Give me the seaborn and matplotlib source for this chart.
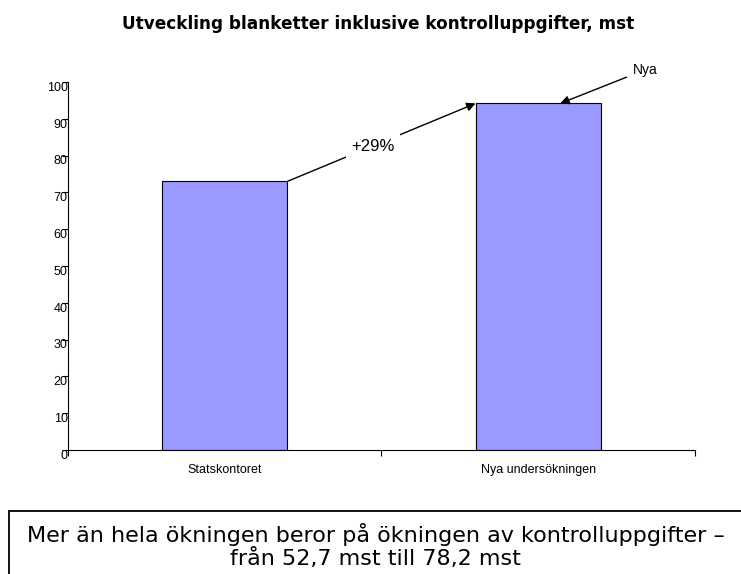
import matplotlib
matplotlib.use('Agg')
import matplotlib.pyplot as plt
import matplotlib.patches as mpatches
import matplotlib.transforms as mtransforms
import seaborn as sns

# Data (miljoner st)
categories = ['Statskontoret', 'Nya undersökningen']
values = [73.0, 94.2]
y_ticks = [0, 10, 20, 30, 40, 50, 60, 70, 80, 90, 100]
title = 'Utveckling blanketter inklusive kontrolluppgifter, mst'
change_label = '+29%'
new_label = 'Nya'
note = 'Mer än hela ökningen beror på ökningen av kontrolluppgifter –\nfrån 52,7 mst till 78,2 mst'

sns.set_style('white')
plt.rcParams['font.family'] = ['Liberation Sans', 'DejaVu Sans']
plt.rcParams['text.color'] = 'black'
plt.rcParams['xtick.color'] = 'black'
plt.rcParams['ytick.color'] = 'black'
plt.rcParams['axes.labelcolor'] = 'black'

fig = plt.figure(figsize=(7.41, 5.74), dpi=100)
ax = fig.add_axes([0.0912, 0.216, 0.847, 0.641])

bar_w = 0.4
sns.barplot(x=categories, y=values, color='#9999ff', saturation=1,
            width=bar_w, edgecolor='black', linewidth=0.8, ax=ax)

ax.set_xlim(-0.5, 1.5)
ax.set_ylim(0, 100)
ax.set_yticks(y_ticks)
ax.set_yticklabels([str(t) for t in y_ticks], fontsize=9)
ax.tick_params(axis='y', direction='out', length=4, width=0.8, pad=-4, left=True)
ax.tick_params(axis='x', which='major', length=0, pad=10, labelsize=9, bottom=True)
ax.set_xticks([-0.5, 0.5, 1.5], minor=True)
ax.tick_params(axis='x', which='minor', direction='out', length=4, width=0.8, bottom=True)
ax.set_xlabel('')
ax.set_ylabel('')

# y labels sit a little below their tick marks, like in the original
shift = mtransforms.ScaledTranslation(0, -3 / 72, fig.dpi_scale_trans)
for lbl in ax.get_yticklabels():
    lbl.set_transform(lbl.get_transform() + shift)

sns.despine(ax=ax, top=True, right=True)
for s in ['left', 'bottom']:
    ax.spines[s].set_color('black')
    ax.spines[s].set_linewidth(0.8)

# +29% arrow from top of first bar to top of second bar
start = (0 + bar_w / 2, values[0])
end = (1 - bar_w / 2, values[1])
ax.annotate('', xy=end, xytext=start,
            arrowprops=dict(arrowstyle='-|>', color='black', lw=1,
                            mutation_scale=13, shrinkA=0, shrinkB=0))
ax.text(0.473, 82.6, change_label, fontsize=12, ha='center', va='center',
        bbox=dict(facecolor='white', edgecolor='none', pad=4), zorder=5)

# "Nya" pointer
ax.annotate(new_label, xy=(1.07, values[1]), xytext=(1.30, 103.3),
            fontsize=10, ha='left', va='center',
            arrowprops=dict(arrowstyle='-|>', color='black', lw=1,
                            mutation_scale=13, shrinkA=2, shrinkB=0))

fig.text(0.51, 1 - 24 / 574, title, ha='center', va='center',
         fontsize=12.2, fontweight='bold', family=['DejaVu Sans'])

# note box at the bottom
box = mpatches.Rectangle((9 / 741, -0.1), 1.1, 0.1 + 1 - 511 / 574,
                         transform=fig.transFigure, fill=False,
                         edgecolor='black', linewidth=1.3)
fig.patches.append(box)
fig.text(0.507, 1 - 546 / 574, note, ha='center', va='center',
         fontsize=16, linespacing=1.12, family=['DejaVu Sans'])

fig.savefig('out.png', dpi=100)
